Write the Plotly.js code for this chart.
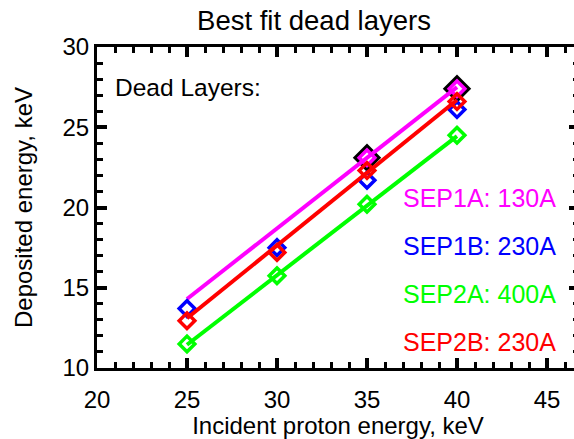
<!DOCTYPE html>
<html>
<head>
<meta charset="utf-8">
<script src="https://cdn.plot.ly/plotly-3.0.1.min.js"></script>
<style>html,body{margin:0;padding:0;overflow:hidden;background:#fff;}</style>
</head>
<body>
<div id="chart" style="width:600px;height:439px;"></div>
<script>
// Incident proton energies (keV)
const energies = [25, 30, 35, 40];
// Measured deposited energies (keV)
const sep1a = [null, null, 23.1, 27.4];
const sep1b = [13.7, 17.5, 21.7, 26.1];
const sep2a = [11.5, 15.75, 20.2, 24.5];
const sep2b = [12.95, 17.2, 22.3, 26.6];
const reference = [null, null, 23.1, 27.4];
// Best-fit line end points
const fitX = [25, 40];
const fit1a = [14.3, 27.5];
const fit2a = [11.45, 24.45];
const fit2b = [13.1, 26.7];
// Labels
const seriesLabels = ["SEP1A: 130A", "SEP1B: 230A", "SEP2A: 400A", "SEP2B: 230A"];
const seriesColors = ["#ff00ff", "#0000ff", "#00ff00", "#ff0000"];
const xTicks = [20, 25, 30, 35, 40, 45];
const yTicks = [10, 15, 20, 25, 30];

const F = "Liberation Sans, Arial, sans-serif";
function mk(color, size, w) {
  return {symbol: "diamond-open", size: size, color: color, line: {color: color, width: w}};
}
const traces = [
  {x: energies, y: reference, mode: "markers", marker: mk("#000", 17, 4.5), hoverinfo: "skip"},
  {x: fitX, y: fit1a, mode: "lines", line: {color: seriesColors[0], width: 4}},
  {x: energies, y: sep1a, mode: "markers", marker: mk(seriesColors[0], 12, 3.5)},
  {x: energies, y: sep1b, mode: "markers", marker: mk(seriesColors[1], 12, 3.5)},
  {x: fitX, y: fit2a, mode: "lines", line: {color: seriesColors[2], width: 4}},
  {x: energies, y: sep2a, mode: "markers", marker: mk(seriesColors[2], 12, 3.5)},
  {x: fitX, y: fit2b, mode: "lines", line: {color: seriesColors[3], width: 4}},
  {x: energies, y: sep2b, mode: "markers", marker: mk(seriesColors[3], 12, 3.5)}
];

const W = 600, H = 439, L = 97, R = 21, T = 47, B = 71;
const pw = W - L - R, ph = H - T - B;
function px(x) { return (x - L) / pw; }
function py(y) { return (H - B - y) / ph; }

const labelY = [198, 246, 294, 342];
const annotations = [{
  text: "Dead Layers:", xref: "paper", yref: "paper", x: px(113), y: py(87),
  xanchor: "left", yanchor: "middle", showarrow: false, font: {family: F, size: 24.5, color: "#000"}
}];
seriesLabels.forEach((t, i) => annotations.push({
  text: t, xref: "paper", yref: "paper", x: px(401), y: py(labelY[i]),
  xanchor: "left", yanchor: "middle", showarrow: false, font: {family: F, size: 25, color: seriesColors[i]}
}));

const minorTicks = {tickmode: "linear", tick0: 0, dtick: 1, ticks: "inside", ticklen: 6, tickwidth: 3, tickcolor: "#000"};
const axisCommon = {
  showgrid: false, zeroline: false, showline: true, linecolor: "#000", linewidth: 3,
  mirror: "allticks", ticks: "inside", ticklen: 10, tickwidth: 4, tickcolor: "#000",
  tickfont: {family: F, size: 24, color: "#000"}, minor: minorTicks
};
const layout = {
  width: W, height: H,
  margin: {l: L, r: R, t: T, b: B},
  paper_bgcolor: "#fff", plot_bgcolor: "#fff",
  showlegend: false,
  title: {text: "Best fit dead layers", font: {family: F, size: 27.5, color: "#000"},
          x: 314 / W, xref: "container", xanchor: "center", y: 1 - 20 / H, yref: "container", yanchor: "middle"},
  xaxis: Object.assign({}, axisCommon, {
    range: [20, 20 + pw / 18], tickmode: "array", tickvals: xTicks, ticktext: xTicks.map(String),
    title: {text: "Incident proton energy, keV", font: {family: F, size: 24, color: "#000"}, standoff: 12},
    ticklabelstandoff: 8
  }),
  yaxis: Object.assign({}, axisCommon, {
    range: [10, 30], tickmode: "array", tickvals: yTicks, ticktext: yTicks.map(String),
    title: {text: "Deposited energy, keV", font: {family: F, size: 24, color: "#000"}, standoff: 24},
    ticklabelstandoff: 0
  }),
  annotations: annotations
};
Plotly.newPlot("chart", traces, layout, {displayModeBar: false, staticPlot: true});
</script>
</body>
</html>
